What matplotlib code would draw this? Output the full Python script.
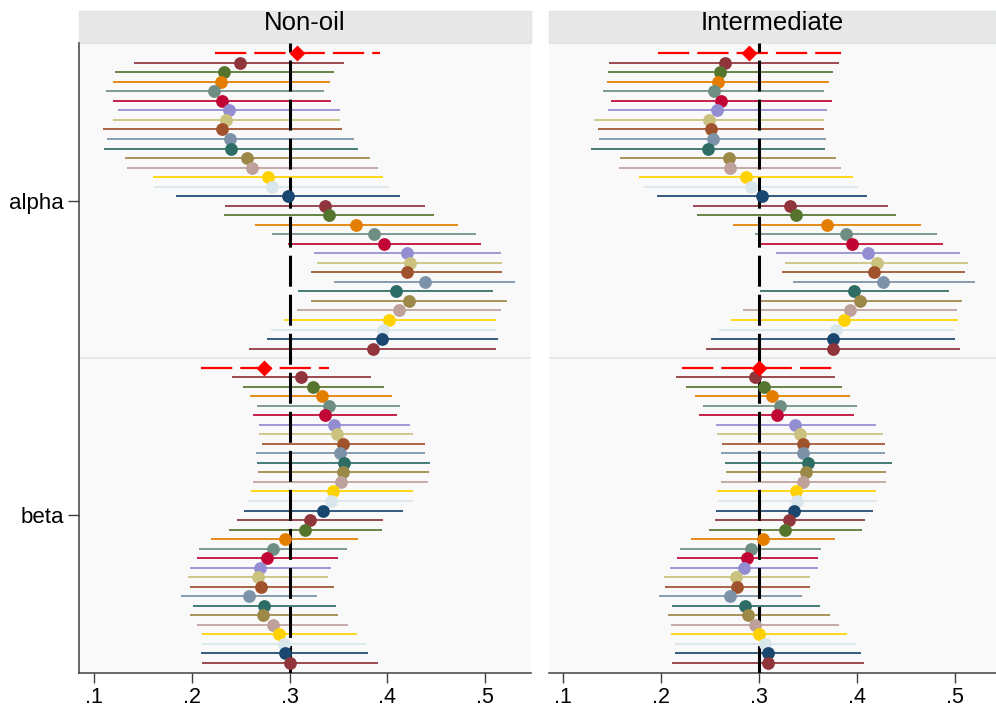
import matplotlib
matplotlib.use("Agg")
import matplotlib.pyplot as plt
from matplotlib.patches import Rectangle
import numpy as np

plt.rcParams['font.family'] = ['Liberation Sans', 'DejaVu Sans']
plt.rcParams['lines.scale_dashes'] = False

# ---------------- data ----------------
panels = ["Non-oil", "Intermediate"]
params = ["alpha", "beta"]
xtick_vals = [0.1, 0.2, 0.3, 0.4, 0.5]
xtick_labels = [".1", ".2", ".3", ".4", ".5"]
ref_x = 0.3

# pooled estimates (red diamonds): [b, lo, hi]
pooled = {
    ("Non-oil", "alpha"): [0.308, 0.224, 0.392],
    ("Non-oil", "beta"): [0.274, 0.209, 0.340],
    ("Intermediate", "alpha"): [0.290, 0.197, 0.384],
    ("Intermediate", "beta"): [0.300, 0.222, 0.374],
}

nonoil_alpha_b = [0.249, 0.233, 0.230, 0.223, 0.231, 0.238, 0.235, 0.231, 0.239, 0.240, 0.256, 0.262, 0.278, 0.282, 0.298,
                  0.336, 0.340, 0.368, 0.386, 0.397, 0.420, 0.423, 0.420, 0.438, 0.409, 0.422, 0.412, 0.402, 0.396, 0.394, 0.385]
nonoil_alpha_lo = [0.141, 0.122, 0.119, 0.112, 0.119, 0.125, 0.119, 0.109, 0.113, 0.110, 0.132, 0.134, 0.160, 0.161, 0.184,
                   0.234, 0.233, 0.265, 0.282, 0.298, 0.325, 0.328, 0.322, 0.345, 0.309, 0.322, 0.308, 0.294, 0.281, 0.277, 0.258]
nonoil_alpha_hi = [0.356, 0.345, 0.341, 0.335, 0.342, 0.352, 0.352, 0.354, 0.366, 0.370, 0.382, 0.390, 0.396, 0.402, 0.413,
                   0.438, 0.448, 0.472, 0.491, 0.496, 0.516, 0.517, 0.517, 0.530, 0.508, 0.522, 0.516, 0.511, 0.511, 0.513, 0.511]

nonoil_beta_b = [0.312, 0.324, 0.333, 0.340, 0.336, 0.345, 0.348, 0.355, 0.352, 0.356, 0.355, 0.353, 0.344, 0.342, 0.334,
                 0.321, 0.316, 0.295, 0.283, 0.277, 0.270, 0.268, 0.271, 0.258, 0.274, 0.273, 0.283, 0.289, 0.294, 0.295, 0.300]
nonoil_beta_lo = [0.241, 0.252, 0.260, 0.267, 0.263, 0.269, 0.269, 0.272, 0.266, 0.267, 0.268, 0.263, 0.261, 0.257, 0.253,
                  0.246, 0.238, 0.220, 0.207, 0.205, 0.198, 0.196, 0.198, 0.189, 0.201, 0.198, 0.205, 0.210, 0.210, 0.209, 0.210]
nonoil_beta_hi = [0.383, 0.397, 0.405, 0.413, 0.410, 0.423, 0.426, 0.438, 0.438, 0.444, 0.443, 0.442, 0.426, 0.426, 0.416,
                  0.395, 0.394, 0.370, 0.359, 0.349, 0.342, 0.339, 0.345, 0.328, 0.347, 0.349, 0.360, 0.369, 0.378, 0.380, 0.390]

inter_alpha_b = [0.265, 0.260, 0.258, 0.254, 0.261, 0.257, 0.249, 0.251, 0.253, 0.248, 0.269, 0.271, 0.287, 0.292, 0.303,
                 0.332, 0.338, 0.369, 0.389, 0.395, 0.411, 0.420, 0.417, 0.427, 0.397, 0.403, 0.393, 0.387, 0.379, 0.376, 0.376]
inter_alpha_lo = [0.147, 0.146, 0.145, 0.141, 0.149, 0.146, 0.132, 0.136, 0.137, 0.129, 0.158, 0.157, 0.178, 0.183, 0.196,
                  0.233, 0.237, 0.274, 0.296, 0.301, 0.317, 0.327, 0.324, 0.335, 0.301, 0.300, 0.284, 0.272, 0.259, 0.251, 0.246]
inter_alpha_hi = [0.382, 0.376, 0.371, 0.366, 0.374, 0.369, 0.366, 0.366, 0.368, 0.367, 0.379, 0.384, 0.396, 0.401, 0.410,
                  0.432, 0.440, 0.465, 0.482, 0.488, 0.505, 0.513, 0.510, 0.520, 0.494, 0.507, 0.502, 0.503, 0.499, 0.500, 0.505]

inter_beta_b = [0.296, 0.305, 0.313, 0.321, 0.318, 0.337, 0.342, 0.345, 0.345, 0.350, 0.348, 0.345, 0.338, 0.339, 0.336,
                0.331, 0.327, 0.304, 0.292, 0.288, 0.285, 0.277, 0.278, 0.271, 0.286, 0.289, 0.296, 0.300, 0.306, 0.309, 0.309]
inter_beta_lo = [0.215, 0.226, 0.235, 0.243, 0.239, 0.256, 0.257, 0.262, 0.261, 0.265, 0.266, 0.261, 0.257, 0.258, 0.256,
                 0.255, 0.249, 0.231, 0.220, 0.216, 0.209, 0.203, 0.204, 0.198, 0.211, 0.207, 0.210, 0.210, 0.214, 0.214, 0.211]
inter_beta_hi = [0.378, 0.385, 0.393, 0.400, 0.397, 0.419, 0.426, 0.429, 0.429, 0.436, 0.430, 0.430, 0.419, 0.420, 0.416,
                 0.408, 0.405, 0.378, 0.363, 0.360, 0.360, 0.352, 0.352, 0.344, 0.362, 0.372, 0.382, 0.390, 0.399, 0.404, 0.407]

series = {
    ("Non-oil", "alpha"): (nonoil_alpha_b, nonoil_alpha_lo, nonoil_alpha_hi),
    ("Non-oil", "beta"): (nonoil_beta_b, nonoil_beta_lo, nonoil_beta_hi),
    ("Intermediate", "alpha"): (inter_alpha_b, inter_alpha_lo, inter_alpha_hi),
    ("Intermediate", "beta"): (inter_beta_b, inter_beta_lo, inter_beta_hi),
}

# Stata s2color palette
palette = ["#1a476f", "#90353b", "#55752f", "#e37e00", "#6e8e84", "#c10534", "#938dd2",
           "#cac27e", "#a0522d", "#7b92a8", "#2d6d66", "#9c8847", "#bfa19c", "#ffd200", "#d9e6eb"]

# ---------------- layout ----------------
W, H = 996, 709
fig = plt.figure(figsize=(W / 100, H / 100), dpi=100)
fig.patch.set_facecolor("white")

top_px, bot_px = 43, 672.5
header_top = 11
ax_boxes = [(79, 531, (0.0847, 0.5468)), (549, 996, (0.0860, 0.5417))]

n = len(nonoil_alpha_b)
group_start = {"alpha": 0, "beta": n + 2}
ylim = (2 * n + 3.0, -1.08)

for pi, panel in enumerate(panels):
    x0, x1, xl = ax_boxes[pi]
    ax = fig.add_axes([x0 / W, 1 - bot_px / H, (x1 - x0) / W, (bot_px - top_px) / H])
    ax.set_facecolor("#f9f9f9")
    ax.set_xlim(*xl)
    ax.set_ylim(*ylim)

    # separator between groups
    ax.axhline(n + 1, color="#e6eaec", lw=1.6, zorder=1)

    for par in params:
        s = group_start[par]
        b, lo, hi = series[(panel, par)]
        for i in range(n):
            y = s + 1 + i
            c = palette[(i + 1) % len(palette)]
            ax.plot([lo[i], hi[i]], [y, y], color=c, lw=1.25, solid_capstyle="butt", zorder=2)
        pb, plo, phi = pooled[(panel, par)]
        ax.plot([plo, phi], [s, s], color="#ff0000", lw=1.6, linestyle=(0, (22.5, 5.8)),
                dash_capstyle="butt", zorder=2)

    # reference line
    ax.plot([ref_x, ref_x], [ylim[1], ylim[0]], color="black", lw=2.2,
            linestyle=(15.8, (22.3, 5.8)), dash_capstyle="butt", zorder=3)

    for par in params:
        s = group_start[par]
        b, lo, hi = series[(panel, par)]
        for i in range(n):
            y = s + 1 + i
            c = palette[(i + 1) % len(palette)]
            ax.plot(b[i], y, marker="o", ms=9.2, color=c, mec="none", zorder=4)
        pb, plo, phi = pooled[(panel, par)]
        ax.plot(pb, s, marker="D", ms=8.0, color="#ff0000", mec="none", zorder=5)

    # axes styling
    for sp in ["top", "right"]:
        ax.spines[sp].set_visible(False)
    ax.spines["bottom"].set_color("#404040")
    ax.spines["bottom"].set_linewidth(1.1)
    ax.set_xticks(xtick_vals)
    ax.set_xticklabels(xtick_labels, fontsize=15.5)
    ax.tick_params(axis="x", length=7.5, width=1.0, color="#404040", pad=3)
    if pi == 0:
        ax.spines["left"].set_color("#404040")
        ax.spines["left"].set_linewidth(1.1)
        ax.set_yticks([group_start["alpha"] + n / 2, group_start["beta"] + n / 2])
        ax.set_yticklabels(params, fontsize=16)
        ax.tick_params(axis="y", length=8, width=1.0, color="#404040", pad=3)
    else:
        ax.spines["left"].set_visible(False)
        ax.set_yticks([])

    # header strip
    hh = (top_px - header_top) / (bot_px - top_px)
    ax.add_patch(Rectangle((0, 1), 1, hh, transform=ax.transAxes, facecolor="#e8e8e8",
                           edgecolor="#dde6ea", lw=1.0, clip_on=False, zorder=0))
    ax.text(0.5, 1 + (bot_px - 30) / (bot_px - top_px) - 1, panel, transform=ax.transAxes,
            ha="center", va="baseline", fontsize=18.5, color="black")

fig.savefig("out.png", dpi=100, facecolor="white")
